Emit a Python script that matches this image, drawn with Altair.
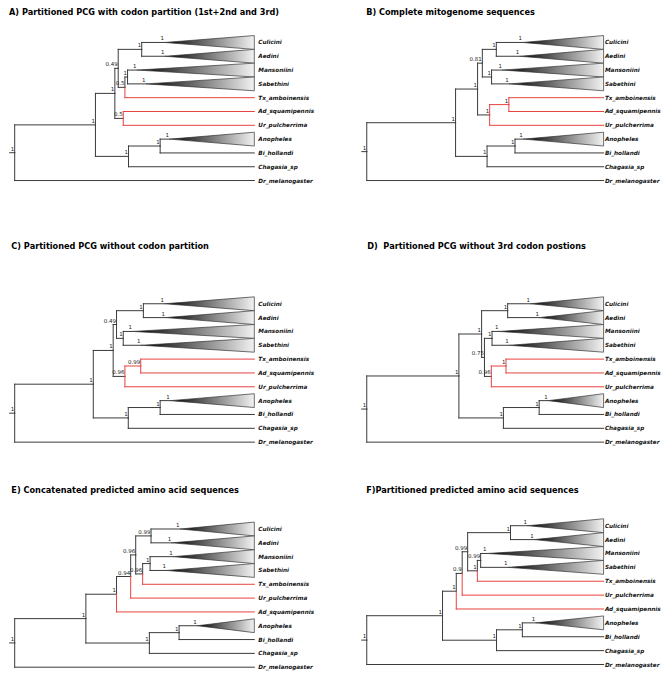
import altair as alt
import pandas as pd

FONT = "DejaVu Sans"

TITLES = [
    "A) Partitioned PCG with codon partition (1st+2nd and 3rd)",
    "B) Complete mitogenome sequences",
    "C) Partitioned PCG without codon partition",
    "D)\u00a0 Partitioned PCG without 3rd codon postions",
    "E) Concatenated predicted amino acid sequences",
    "F)Partitioned predicted amino acid sequences",
]

ORDER_ABCD = ["Culicini", "Aedini", "Mansoniini", "Sabethini", "Tx_amboinensis",
              "Ad_squamipennis", "Ur_pulcherrima", "Anopheles", "Bi_hollandi",
              "Chagasia_sp", "Dr_melanogaster"]
ORDER_EF = ["Culicini", "Aedini", "Mansoniini", "Sabethini", "Tx_amboinensis",
            "Ur_pulcherrima", "Ad_squamipennis", "Anopheles", "Bi_hollandi",
            "Chagasia_sp", "Dr_melanogaster"]
COLLAPSED = ["Culicini", "Aedini", "Mansoniini", "Sabethini", "Anopheles"]

# ---- A
A_NODE = ["root", "N1", "N2", "Nx", "Ny", "NCA", "NMS", "NAU", "Nan", "NAB",
          "Culicini", "Aedini", "Mansoniini", "Sabethini", "Tx_amboinensis",
          "Ad_squamipennis", "Ur_pulcherrima", "Anopheles", "Bi_hollandi",
          "Chagasia_sp", "Dr_melanogaster"]
A_PARENT = ["", "root", "N1", "N2", "Nx", "Nx", "Ny", "N2", "N1", "Nan",
            "NCA", "NCA", "NMS", "NMS", "Ny", "NAU", "NAU", "NAB", "NAB", "Nan", "root"]
A_DEPTH = [0, 0.337, 0.418, 0.432, 0.460, 0.530, 0.471, 0.453, 0.475, 0.607,
           0.625, 0.627, 0.510, 0.548, 1, 1, 1, 0.646, 1, 1, 1]
A_SUPPORT = ["1", "1", "1", "0.49", "0.5", "1", "1", "0.5", "1", "1",
             "1", "1", "1", "1", "", "", "", "1", "", "", ""]
A_RED = ["Tx_amboinensis", "Ad_squamipennis", "Ur_pulcherrima"]

# ---- B
B_NODE = ["root", "N1", "N2", "N3", "NCA", "NMS", "Nred", "NTA", "Nan", "NAB",
          "Culicini", "Aedini", "Mansoniini", "Sabethini", "Tx_amboinensis",
          "Ad_squamipennis", "Ur_pulcherrima", "Anopheles", "Bi_hollandi",
          "Chagasia_sp", "Dr_melanogaster"]
B_PARENT = ["", "root", "N1", "N2", "N3", "N3", "N2", "Nred", "N1", "Nan",
            "NCA", "NCA", "NMS", "NMS", "NTA", "NTA", "Nred", "NAB", "NAB", "Nan", "root"]
B_DEPTH = [0, 0.375, 0.468, 0.488, 0.547, 0.527, 0.519, 0.600, 0.508, 0.626,
           0.658, 0.646, 0.573, 0.602, 1, 1, 1, 0.661, 1, 1, 1]
B_SUPPORT = ["1", "1", "1", "0.81", "1", "1", "1", "1", "1", "1",
             "1", "1", "1", "1", "", "", "", "1", "", "", ""]
B_RED = ["NTA", "Tx_amboinensis", "Ad_squamipennis", "Ur_pulcherrima"]

# ---- C
C_NODE = ["root", "N1", "N2", "Nx", "NCA", "NMS", "Nred", "NTA", "Nan", "NAB",
          "Culicini", "Aedini", "Mansoniini", "Sabethini", "Tx_amboinensis",
          "Ad_squamipennis", "Ur_pulcherrima", "Anopheles", "Bi_hollandi",
          "Chagasia_sp", "Dr_melanogaster"]
C_PARENT = ["", "root", "N1", "N2", "Nx", "Nx", "N2", "Nred", "N1", "Nan",
            "NCA", "NCA", "NMS", "NMS", "NTA", "NTA", "Nred", "NAB", "NAB", "Nan", "root"]
C_DEPTH = [0, 0.328, 0.411, 0.425, 0.537, 0.453, 0.460, 0.526, 0.474, 0.607,
           0.625, 0.629, 0.492, 0.527, 1, 1, 1, 0.649, 1, 1, 1]
C_SUPPORT = ["1", "1", "1", "0.49", "1", "1", "0.96", "0.99", "1", "1",
             "1", "1", "1", "1", "", "", "", "1", "", "", ""]
C_RED = ["NTA", "Tx_amboinensis", "Ad_squamipennis", "Ur_pulcherrima"]

# ---- D
D_NODE = ["root", "N1", "N2", "NCA", "N3", "NMS", "Nred", "NTA", "Nan", "NAB",
          "Culicini", "Aedini", "Mansoniini", "Sabethini", "Tx_amboinensis",
          "Ad_squamipennis", "Ur_pulcherrima", "Anopheles", "Bi_hollandi",
          "Chagasia_sp", "Dr_melanogaster"]
D_PARENT = ["", "root", "N1", "N2", "N2", "N3", "N3", "Nred", "N1", "Nan",
            "NCA", "NCA", "NMS", "NMS", "NTA", "NTA", "Nred", "NAB", "NAB", "Nan", "root"]
D_DEPTH = [0, 0.389, 0.485, 0.595, 0.497, 0.529, 0.526, 0.588, 0.577, 0.728,
           0.691, 0.729, 0.558, 0.602, 1, 1, 1, 0.766, 1, 1, 1]
D_SUPPORT = ["1", "1", "1", "1", "0.75", "1", "0.96", "1", "1", "1",
             "1", "1", "1", "1", "", "", "", "1", "", "", ""]
D_RED = ["NTA", "Tx_amboinensis", "Ad_squamipennis", "Ur_pulcherrima"]

# ---- E
E_NODE = ["root", "N1", "N2", "N3", "N4", "NCA", "N5", "NMS", "Nan", "NAB",
          "Culicini", "Aedini", "Mansoniini", "Sabethini", "Tx_amboinensis",
          "Ur_pulcherrima", "Ad_squamipennis", "Anopheles", "Bi_hollandi",
          "Chagasia_sp", "Dr_melanogaster"]
E_PARENT = ["", "root", "N1", "N2", "N3", "N4", "N4", "N5", "N1", "Nan",
            "NCA", "NCA", "NMS", "NMS", "N5", "N3", "N2", "NAB", "NAB", "Nan", "root"]
E_DEPTH = [0, 0.297, 0.425, 0.484, 0.505, 0.569, 0.534, 0.565, 0.562, 0.686,
           0.690, 0.655, 0.662, 0.634, 1, 1, 1, 0.762, 1, 1, 1]
E_SUPPORT = ["1", "1", "1", "0.94", "0.96", "0.99", "0.96", "1", "1", "1",
             "1", "1", "1", "1", "", "", "", "1", "", "", ""]
E_RED = ["Tx_amboinensis", "Ur_pulcherrima", "Ad_squamipennis"]

# ---- F
F_NODE = E_NODE
F_PARENT = E_PARENT
F_DEPTH = [0, 0.320, 0.378, 0.403, 0.426, 0.607, 0.467, 0.481, 0.548, 0.657,
           0.679, 0.707, 0.508, 0.596, 1, 1, 1, 0.714, 1, 1, 1]
F_SUPPORT = ["1", "1", "1", "0.9", "0.99", "1", "1", "0.99", "1", "1",
             "1", "1", "1", "1", "", "", "", "1", "", "", ""]
F_RED = ["Tx_amboinensis", "Ur_pulcherrima", "Ad_squamipennis"]

TREES = [
    (A_NODE, A_PARENT, A_DEPTH, A_SUPPORT, A_RED, ORDER_ABCD),
    (B_NODE, B_PARENT, B_DEPTH, B_SUPPORT, B_RED, ORDER_ABCD),
    (C_NODE, C_PARENT, C_DEPTH, C_SUPPORT, C_RED, ORDER_ABCD),
    (D_NODE, D_PARENT, D_DEPTH, D_SUPPORT, D_RED, ORDER_ABCD),
    (E_NODE, E_PARENT, E_DEPTH, E_SUPPORT, E_RED, ORDER_EF),
    (F_NODE, F_PARENT, F_DEPTH, F_SUPPORT, F_RED, ORDER_EF),
]

# ---- layout (pixels inside each panel)
W, H = 327, 221
# root_px, tip_px, label_gap, first_leaf_px, leaf_step, title_x, title_y
LAYOUT = [
    (5.7, 245.7, 4.0, 33.0, 13.83, 0.0, 4.0),
    (31.3, 268.5, 1.3, 33.0, 13.83, 30.7, 4.0),
    (5.7, 245.7, 4.0, 73.7, 13.86, 2.3, 16.7),
    (31.3, 268.5, 1.3, 73.7, 13.86, 31.7, 16.7),
    (5.7, 245.7, 4.0, 78.3, 13.84, 2.3, 40.0),
    (31.3, 268.5, 1.3, 75.0, 13.90, 30.7, 40.0),
]
STUB_PX = 5.0
BLACK = "#3a3a3a"
RED = "#e8423f"

GRAD = alt.LinearGradient(
    gradient="linear",
    stops=[alt.GradientStop(offset=0, color="#000000"),
           alt.GradientStop(offset=1, color="#f2f2f2")],
    x1=0, x2=1, y1=0, y2=0,
)


def build_panel(tree, lay, title):
    node, parent, depth, support, red, order = tree
    root_px, tip_px, gap, y0, step, tx, ty = lay
    span = tip_px - root_px
    pos = dict(zip(node, depth))
    par = dict(zip(node, parent))
    children = {}
    for n, p in zip(node, parent):
        if p:
            children.setdefault(p, []).append(n)
    ypos = {}

    def gety(n):
        if n not in ypos:
            if n in children:
                ys = [gety(c) for c in children[n]]
                ypos[n] = (min(ys) + max(ys)) / 2
            else:
                ypos[n] = order.index(n)
        return ypos[n]

    for n in node:
        gety(n)

    segs = []
    for n in node:
        p = par[n]
        col = RED if n in red else BLACK
        if not p:
            segs.append(dict(x=-STUB_PX / span, x2=0, y=ypos[n], y2=ypos[n], c=col, o=0))
            continue
        o = 1 if col == RED else 0
        segs.append(dict(x=pos[p], x2=pos[p], y=ypos[p], y2=ypos[n], c=col, o=o))
        segs.append(dict(x=pos[p], x2=pos[n], y=ypos[n], y2=ypos[n], c=col, o=o))
    seg_df = pd.DataFrame(segs).sort_values("o")

    tri = []
    for n in node:
        if n in COLLAPSED:
            tri.append(dict(clade=n, x=pos[n], y=ypos[n], y2=ypos[n]))
            tri.append(dict(clade=n, x=1.0, y=ypos[n] - 0.5, y2=ypos[n] + 0.5))
    tri_df = pd.DataFrame(tri)

    sup_df = pd.DataFrame([dict(x=pos[n], y=ypos[n], t=s)
                           for n, s in zip(node, support) if s])
    leaf_df = pd.DataFrame([dict(x=1.0, y=order.index(n), t=n) for n in order])
    title_df = pd.DataFrame({"t": [title]})

    xs = alt.Scale(domain=[-root_px / span, (W - root_px) / span], nice=False, zero=False)
    ys = alt.Scale(domain=[-y0 / step, (H - y0) / step], nice=False, zero=False, reverse=True)

    def X(f="x"):
        return alt.X(f"{f}:Q", scale=xs, axis=None)

    def Y(f="y"):
        return alt.Y(f"{f}:Q", scale=ys, axis=None)

    areas = alt.Chart(tri_df).mark_area(
        orient="vertical", fill=GRAD, stroke="#333333", strokeWidth=0.7
    ).encode(x=X(), y=Y(), y2="y2:Q", detail="clade:N")

    rules = alt.Chart(seg_df).mark_rule(strokeWidth=1, strokeCap="square").encode(
        x=X(), x2="x2:Q", y=Y(), y2="y2:Q",
        color=alt.Color("c:N", scale=None), order="o:Q")

    sup = alt.Chart(sup_df).mark_text(
        font=FONT, fontSize=5.5, align="right", baseline="alphabetic",
        dx=-0.5, dy=-2, color="#222222"
    ).encode(x=X(), y=Y(), text="t:N")

    leaves = alt.Chart(leaf_df).mark_text(
        font=FONT, fontSize=5.7, fontWeight="bold", fontStyle="italic",
        align="left", baseline="middle", dx=gap, color="#111111"
    ).encode(x=X(), y=Y(), text="t:N")

    ttl = alt.Chart(title_df).mark_text(
        font=FONT, fontSize=8.2, fontWeight="bold", align="left",
        baseline="middle", color="#000000"
    ).encode(x=alt.value(tx), y=alt.value(ty), text="t:N")

    return alt.layer(areas, rules, sup, leaves, ttl).properties(width=W, height=H)


panels = [build_panel(t, l, ti) for t, l, ti in zip(TREES, LAYOUT, TITLES)]
rows = [alt.hconcat(panels[i], panels[i + 1], spacing=0) for i in (0, 2, 4)]
chart = alt.vconcat(*rows, spacing=0).properties(padding=0).configure_view(
    stroke=None).configure_concat(spacing=0)

chart.save("out.html", embed_options={"renderer": "svg", "actions": False})
